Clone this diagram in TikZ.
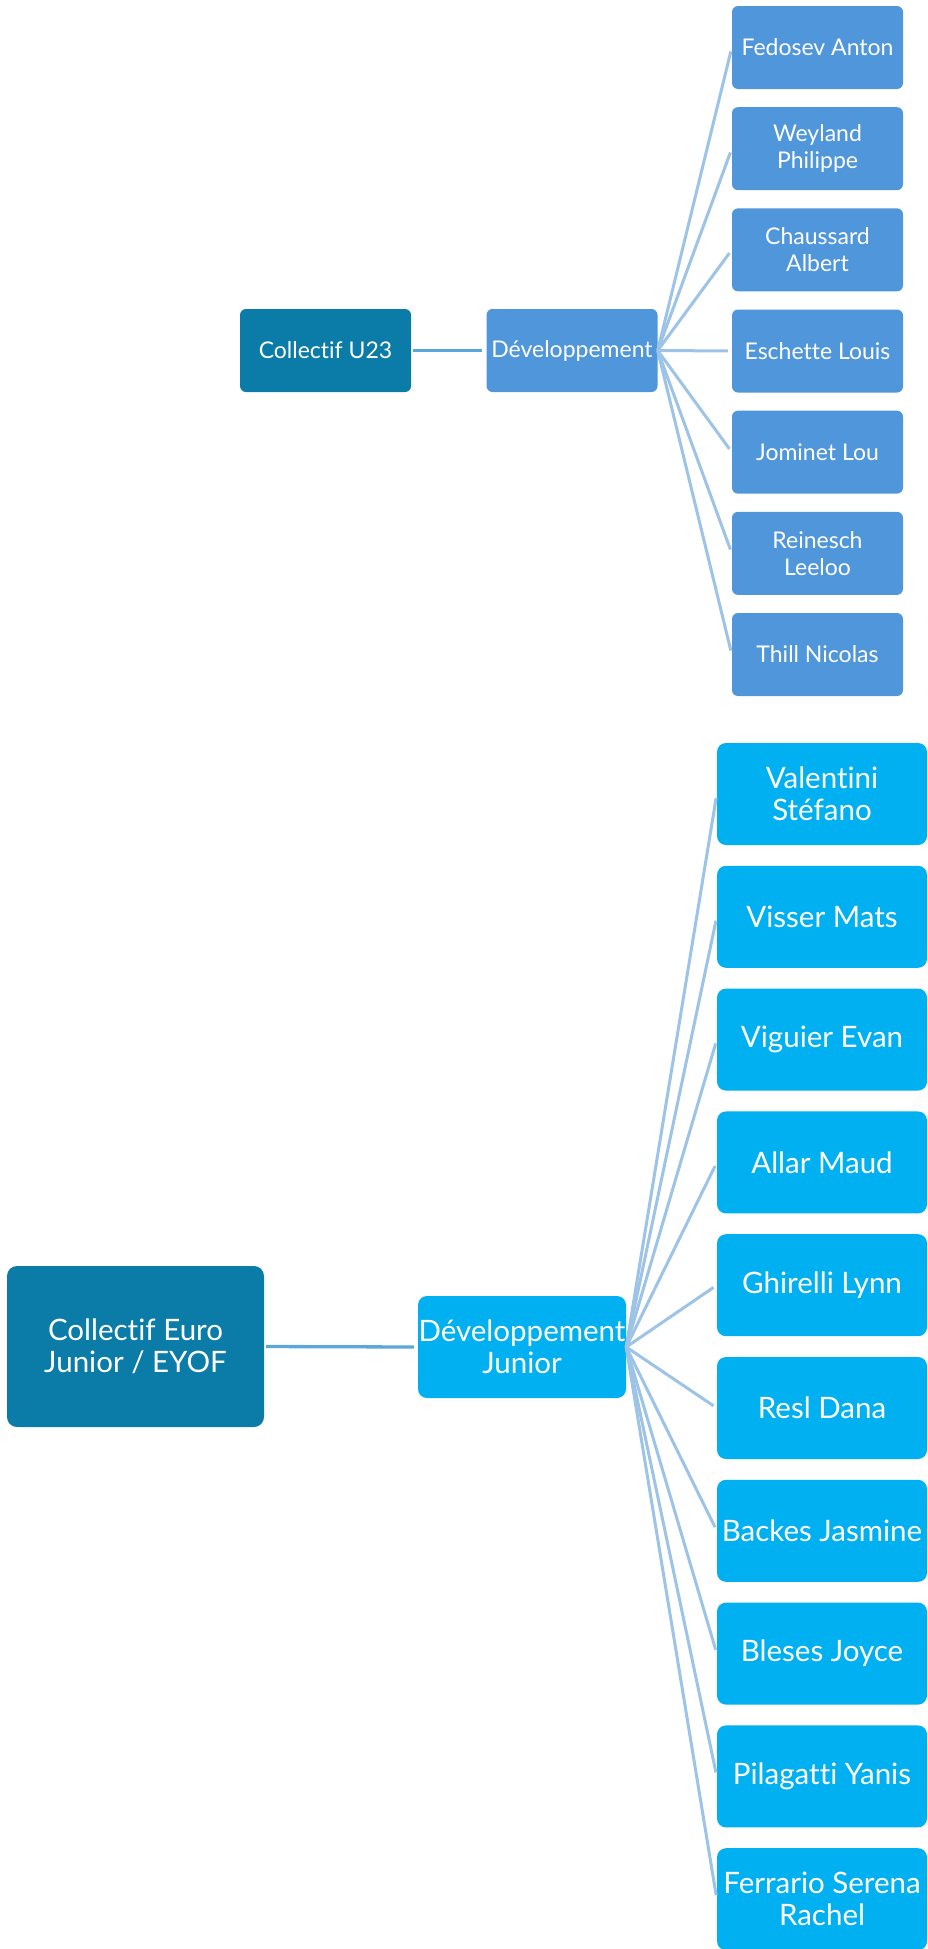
\documentclass[tikz,border=0pt]{standalone}
\usepackage{fontspec}
\setmainfont{Lato}[Ligatures={NoCommon}]
\definecolor{darkteal}{RGB}{11,124,168}
\definecolor{topblue}{RGB}{80,150,218}
\definecolor{cyanbox}{RGB}{0,176,240}
\definecolor{fanline}{RGB}{157,195,230}
\definecolor{mainline}{RGB}{91,167,217}
\tikzset{
  boxbase/.style={rounded corners=6pt, text=white, align=center, inner sep=0pt, draw=none},
  smallbox/.style={boxbase, minimum width=171pt, minimum height=83pt, font=\fontsize{23}{26.7}\selectfont},
  bigbox/.style={boxbase, rounded corners=9pt, minimum height=102pt, font=\fontsize{29.5}{32}\selectfont},
  fan/.style={draw=fanline, line width=3pt, shorten >=4pt},
  mainconn/.style={draw=mainline, line width=3.3pt, shorten <=2pt, shorten >=4pt}
}
\begin{document}
\begin{tikzpicture}[x=1pt,y=-1pt]
\useasboundingbox (0,0) rectangle (927,1949);
% top section
\node[smallbox, fill=darkteal] (u23) at (325.5,350.5) {Collectif U23};
\node[smallbox, fill=topblue] (dev) at (572,350.5) {Développement};
\foreach \name/\txt [count=\i from 0] in {fed/Fedosev Anton, wey/Weyland\\Philippe, cha/Chaussard\\Albert, esc/Eschette Louis, jom/Jominet Lou, rei/Reinesch\\Leeloo, thi/Thill Nicolas}{
  \node[smallbox, fill=topblue] (\name) at (817.5,47.5+\i*101.17) {\txt};
  \draw[fan] (dev.east) -- (\name.west);
}
\draw[mainconn] (u23.east) -- (dev.west);
% bottom section
\node[bigbox, fill=darkteal, minimum width=257pt, minimum height=161pt, rounded corners=10pt] (euro) at (135.5,1346.5) {Collectif Euro\\Junior / EYOF};
\node[bigbox, fill=cyanbox, minimum width=208pt] (devj) at (522,1347) {Développement\\Junior};
\foreach \name/\txt [count=\i from 0] in {val/Valentini\\Stéfano, vis/Visser Mats, vig/Viguier Evan, all/Allar Maud, ghi/Ghirelli Lynn, res/Resl Dana, bac/Backes Jasmine, ble/Bleses Joyce, pil/Pilagatti Yanis, fer/Ferrario Serena\\Rachel}{
  \node[bigbox, fill=cyanbox, minimum width=210pt] (\name) at (822,794+\i*122.8) {\txt};
  \draw[fan] (devj.east) -- (\name.west);
}
\draw[mainconn] (euro.east) -- (devj.west);
\end{tikzpicture}
\end{document}
